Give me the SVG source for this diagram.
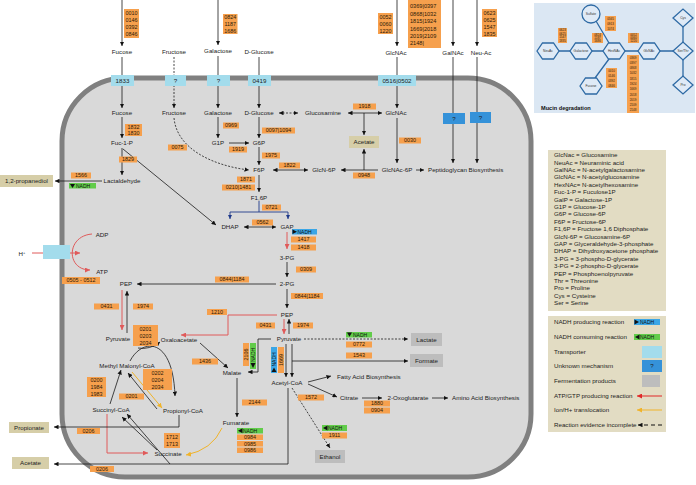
<svg xmlns="http://www.w3.org/2000/svg" width="696" height="485" viewBox="0 0 696 485">
<defs>
<style>
text{font-family:"Liberation Sans",Arial,sans-serif;fill:#222}
.l{font-size:6.2px;text-anchor:middle}
.ls{font-size:6.2px;text-anchor:start}
.c{font-size:5.4px;text-anchor:middle;fill:#2b1a08}
.cs{font-size:5.6px;text-anchor:start;fill:#2b1a08}
.o{fill:#f6a04d}
.tr{fill:#a3dcec}
.uk{fill:#3592d9}
.fp{fill:#bdbdbd}
.tan{fill:#d6cea8}
.k{fill:none;stroke:#1a1a1a;stroke-width:0.8}
.ka{fill:none;stroke:#1a1a1a;stroke-width:0.8;marker-end:url(#ab)}
.kd{fill:none;stroke:#1a1a1a;stroke-width:0.8;stroke-dasharray:2,1.5;marker-end:url(#ab)}
.kb{fill:none;stroke:#1a1a1a;stroke-width:0.8;marker-start:url(#ab);marker-end:url(#ab)}
.r{fill:none;stroke:#e05a5a;stroke-width:1;marker-end:url(#ar)}
.y{fill:none;stroke:#f0b32a;stroke-width:1;marker-end:url(#ay)}
.nv{fill:none;stroke:#1f3a8a;stroke-width:0.9}
.nva{fill:none;stroke:#1f3a8a;stroke-width:0.9;marker-end:url(#an)}
.g{fill:#62cc4a}
.bl{fill:#3aa6e6}
.n{font-size:5px;text-anchor:start;fill:#111}
.hx{fill:#dfeaf6;stroke:#2e6aa4;stroke-width:1.3}
.hl{fill:none;stroke:#2e6aa4;stroke-width:1.3}
.ht{font-size:3.3px;text-anchor:middle;fill:#333}
.mc{font-size:3px;text-anchor:middle;fill:#2b1a08}
</style>
<marker id="ab" viewBox="0 0 6 6" refX="6" refY="3" markerWidth="4.5" markerHeight="4.5" markerUnits="userSpaceOnUse" orient="auto-start-reverse"><path d="M0,0L6,3L0,6z" fill="#111"/></marker>
<marker id="ar" viewBox="0 0 6 6" refX="6" refY="3" markerWidth="5" markerHeight="5" markerUnits="userSpaceOnUse" orient="auto"><path d="M0,0L6,3L0,6z" fill="#e05a5a"/></marker>
<marker id="ay" viewBox="0 0 6 6" refX="6" refY="3" markerWidth="5" markerHeight="5" markerUnits="userSpaceOnUse" orient="auto"><path d="M0,0L6,3L0,6z" fill="#f0b32a"/></marker>
<marker id="an" viewBox="0 0 6 6" refX="6" refY="3" markerWidth="4.5" markerHeight="4.5" markerUnits="userSpaceOnUse" orient="auto"><path d="M0,0L6,3L0,6z" fill="#1f3a8a"/></marker>
<marker id="ard" viewBox="0 0 6 6" refX="6" refY="3" markerWidth="5" markerHeight="5" markerUnits="userSpaceOnUse" orient="auto"><path d="M0,0L6,3L0,6z" fill="#e02828"/></marker>
</defs>
<rect width="696" height="485" fill="#fff"/>
<g id="cell"><rect x="62" y="78" width="469" height="399" rx="63" fill="#d9d9d9" stroke="#808080" stroke-width="5"/></g>

<g id="connectors">
<path class="ka" d="M122,0V46"/>
<path class="ka" d="M122,57V108"/>
<path class="ka" d="M122,117V138"/>
<path class="ka" d="M122,148V175"/>
<path class="ka" d="M123,149L216,225"/>
<path class="ka" d="M102,181H55"/>
<path class="kd" d="M174,57V108"/>
<path class="kd" d="M174,118C177,150 215,166 249,170"/>
<path class="ka" d="M218,0V45"/>
<path class="ka" d="M218,56V108"/>
<path class="ka" d="M218,117V138"/>
<path class="ka" d="M229,143H249"/>
<path class="ka" d="M259,57V108"/>
<path class="ka" d="M259,117V138"/>
<path class="ka" d="M259,147V165"/>
<path class="ka" d="M259,175V192"/>
<path class="kb" d="M279,113H298" stroke-dasharray="2,1.5"/>
<path class="kb" d="M348,113H382"/>
<path class="ka" d="M364,113V135"/>
<path class="ka" d="M364,170V149"/>
<path class="ka" d="M397,0V46"/>
<path class="ka" d="M397,57V108"/>
<path class="ka" d="M397,118V163"/>
<path class="ka" d="M378,170H341"/>
<path class="kb" d="M273,170H308"/>
<path class="ka" d="M416,170H424"/>
<path class="ka" d="M453,0V46"/>
<path class="ka" d="M453,57V163"/>
<path class="ka" d="M477,0V46"/>
<path class="ka" d="M477,57V163"/>
<path class="nv" d="M259,201V212M230,212H288"/>
<path class="nva" d="M230,212V219"/>
<path class="nva" d="M288,212V219"/>
<path class="kb" d="M244,227H276"/>
<path class="r" d="M287,232V249"/>
<path class="ka" d="M287,262V277"/>
<path class="ka" d="M276,284H137"/>
<path class="ka" d="M287,289V308"/>
<path class="r" d="M277,315H228V335H181"/>
<path class="r" d="M122,290V330"/>
<path class="ka" d="M127,333V291"/>
<path class="r" d="M284,319V334"/>
<path class="ka" d="M289,334V319"/>
<path class="ka" d="M271,339H258V372H248"/>
<path class="ka" d="M286,344V377"/>
<path class="ka" d="M292,344V377"/>
<path class="kd" d="M304,339H408"/>
<path class="ka" d="M292,361H408"/>
<path class="ka" d="M308,382L331,376"/>
<path class="ka" d="M308,384L337,397"/>
<path class="ka" d="M362,398H382"/>
<path class="ka" d="M432,398H448"/>
<path class="kd" d="M292,388L330,448"/>
<path class="ka" d="M288,388V464H54"/>
<path class="ka" d="M200,343L228,368"/>
<path class="ka" d="M237,378V417"/>
<path class="y" d="M222,428Q212,450 186,455"/>
<path class="r" d="M107,414V453H148"/>
<path class="ka" d="M157,450L122,417"/>
<path class="ka" d="M170,464L127,414"/>
<path class="ka" d="M110,404L121,370"/>
<path class="y" d="M132,372L162,408"/>
<path class="ka" d="M157,409L128,373"/>
<path class="ka" d="M179,415V427H54"/>
<path class="ka" d="M130,361C142,338 173,336 175,396"/>
<path class="ka" d="M138,348Q150,350 160,342"/>
<path class="r" d="M32,253H80"/>
<path class="r" d="M92,234C66,236 66,270 90,270"/>
</g>

<g id="outer-inputs">
<text class="l" x="122" y="54.2">Fucose</text>
<text class="l" x="174" y="54.2">Fructose</text>
<text class="l" x="218" y="52.5">Galactose</text>
<text class="l" x="259" y="54.2">D-Glucose</text>
<text class="l" x="396" y="55">GlcNAc</text>
<text class="l" x="453" y="55">GalNAc</text>
<text class="l" x="481" y="55">Neu-Ac</text>
<rect class="o" x="124" y="9" width="15" height="29"/>
<text class="c" x="131.5" y="14.6">0010</text><text class="c" x="131.5" y="21.9">0146</text><text class="c" x="131.5" y="29.1">0392</text><text class="c" x="131.5" y="36.4">0846</text>
<rect class="o" x="223" y="14" width="14.5" height="20"/>
<text class="c" x="230.2" y="19.3">0824</text><text class="c" x="230.2" y="26">1187</text><text class="c" x="230.2" y="32.7">1686</text>
<rect class="o" x="378" y="13" width="15" height="21"/>
<text class="c" x="385.5" y="18.5">0052</text><text class="c" x="385.5" y="25.5">0060</text><text class="c" x="385.5" y="32.5">1220</text>
<rect class="o" x="408" y="0" width="33" height="48"/>
<text class="cs" x="410" y="8">0369|0397</text><text class="cs" x="410" y="16">0868|1032</text><text class="cs" x="410" y="23.3">1815|1924</text><text class="cs" x="410" y="30.5">1669|2018</text><text class="cs" x="410" y="37.8">2019|2109</text><text class="cs" x="410" y="45">2148|</text>
<rect class="o" x="482" y="9" width="15" height="28"/>
<text class="c" x="489.5" y="14.5">0623</text><text class="c" x="489.5" y="21.5">0625</text><text class="c" x="489.5" y="28.5">1547</text><text class="c" x="489.5" y="35.5">1835</text>
</g>

<g id="transporters">
<rect class="tr" x="111" y="75" width="23" height="11"/><text class="l" x="122.5" y="82.7">1833</text>
<rect class="tr" x="165" y="75" width="21" height="11"/><text class="l" x="175.5" y="82.7">?</text>
<rect class="tr" x="207" y="75" width="23" height="11"/><text class="l" x="218.5" y="82.7">?</text>
<rect class="tr" x="248" y="75" width="23" height="11"/><text class="l" x="259.5" y="82.7">0419</text>
<rect class="tr" x="378" y="75" width="38" height="11"/><text class="l" x="397" y="82.7">0516|0502</text>
<rect class="uk" x="443" y="113" width="22" height="11"/><text class="l" x="454" y="120.7">?</text>
<rect class="uk" x="470" y="112" width="21" height="11"/><text class="l" x="480.5" y="119.7">?</text>
</g>

<g id="sugars">
<text class="l" x="122" y="115.2">Fucose</text>
<text class="l" x="174" y="115.2">Fructose</text>
<text class="l" x="218" y="115.2">Galactose</text>
<text class="l" x="259" y="115.2">D-Glucose</text>
<text class="l" x="323" y="115.2">Glucosamine</text>
<text class="l" x="396" y="115.2">GlcNAc</text>
<text class="l" x="122" y="145.2">Fuc-1-P</text>
<text class="l" x="218" y="145.2">G1P</text>
<text class="l" x="259" y="145.2">G6P</text>
<text class="l" x="122" y="183.2">Lactaldehyde</text>
<text class="l" x="259" y="172.2">F6P</text>
<text class="l" x="324" y="172.2">GlcN-6P</text>
<text class="l" x="397" y="172.2">GlcNAc-6P</text>
<text class="ls" x="428" y="172.2">Peptidoglycan Biosynthesis</text>
<text class="l" x="259" y="200.2">F1,6P</text>
<text class="l" x="230" y="229.2">DHAP</text>
<text class="l" x="287" y="229.2">GAP</text>
<text class="l" x="287" y="260.2">3-PG</text>
<text class="l" x="287" y="286.2">2-PG</text>
<text class="l" x="126" y="286.2">PEP</text>
<text class="l" x="287" y="317.2">PEP</text>
</g>

<g id="central">
<text class="l" x="118" y="341.2">Pyruvate</text>
<text class="l" x="179" y="342.2">Oxaloacetate</text>
<text class="l" x="289" y="341.2">Pyruvate</text>
<text class="l" x="232" y="375.2">Malate</text>
<text class="l" x="287" y="385.2">Acetyl-CoA</text>
<text class="ls" x="337" y="379.2">Fatty Acid Biosynthesis</text>
<text class="l" x="349" y="400.2">Citrate</text>
<text class="l" x="408" y="400.2">2-Oxoglutarate</text>
<text class="ls" x="452" y="400.2">Amino Acid Biosynthesis</text>
<text class="l" x="127" y="368.2">Methyl Malonyl-CoA</text>
<text class="l" x="111" y="412.2">Succinyl-CoA</text>
<text class="l" x="183" y="413.2">Propionyl-CoA</text>
<text class="l" x="236" y="425.2">Fumarate</text>
<text class="l" x="168" y="456.2">Succinate</text>
</g>

<g id="atp-synthase">
<rect class="tr" x="43" y="245" width="27" height="14"/>
<text class="l" x="22" y="256">H<tspan font-size="4" dy="-2">+</tspan></text>
<text class="l" x="102" y="237">ADP</text>
<text class="l" x="102" y="274">ATP</text>
<rect class="o" x="62" y="277" width="38" height="7"/><text class="c" x="81" y="282.4">0505 - 0512</text>
</g>

<g id="products">
<rect class="tan" x="0" y="175" width="53" height="12"/><text class="l" x="26.5" y="183.2">1,2-propanediol</text>
<rect class="tan" x="349" y="136" width="30" height="12"/><text class="l" x="364" y="144.2">Acetate</text>
<rect class="tan" x="9" y="422" width="40" height="11"/><text class="l" x="29" y="429.7">Propionate</text>
<rect class="tan" x="12" y="457" width="37" height="12"/><text class="l" x="30.5" y="465.2">Acetate</text>
<rect class="fp" x="411" y="333" width="31" height="13"/><text class="l" x="426.5" y="341.7">Lactate</text>
<rect class="fp" x="410" y="354" width="33" height="13"/><text class="l" x="426.5" y="362.7">Formate</text>
<rect class="fp" x="315" y="450" width="30" height="13"/><text class="l" x="330" y="458.7">Ethanol</text>
</g>

<g id="enzymes">
<rect class="o" x="125" y="124" width="17" height="12"/><text class="c" x="133.5" y="129">1832</text><text class="c" x="133.5" y="135">1830</text>
<rect class="o" x="119" y="156.5" width="18" height="6"/><text class="c" x="128" y="161.4">1829</text>
<rect class="o" x="168" y="144.5" width="19" height="6"/><text class="c" x="177.5" y="149.4">0075</text>
<rect class="o" x="223" y="122.5" width="16" height="6"/><text class="c" x="231" y="127.4">0969</text>
<rect class="o" x="229" y="146.5" width="18" height="6"/><text class="c" x="238" y="151.4">1919</text>
<rect class="o" x="353" y="103.5" width="23" height="6"/><text class="c" x="364.5" y="108.4">1918</text>
<rect class="o" x="262" y="127.5" width="33" height="6"/><text class="c" x="278.5" y="132.4">0097|1094</text>
<rect class="o" x="262" y="152.5" width="18" height="6"/><text class="c" x="271" y="157.4">1975</text>
<rect class="o" x="279" y="162.5" width="21" height="6"/><text class="c" x="289.5" y="167.4">1822</text>
<rect class="o" x="399" y="137.5" width="22" height="6"/><text class="c" x="410" y="142.4">0030</text>
<rect class="o" x="353" y="172.5" width="22" height="6"/><text class="c" x="364" y="177.4">0948</text>
<rect class="o" x="237" y="176.5" width="18" height="6"/><text class="c" x="246" y="181.4">1871</text>
<rect class="o" x="222" y="184.5" width="33" height="6"/><text class="c" x="238.5" y="189.4">0210|1481</text>
<rect class="o" x="262" y="204.5" width="19" height="6"/><text class="c" x="271.5" y="209.4">0721</text>
<rect class="o" x="252" y="219.5" width="21" height="6"/><text class="c" x="262.5" y="224.4">0562</text>
<rect class="o" x="291" y="236.5" width="25" height="6"/><text class="c" x="303.5" y="241.4">1417</text>
<rect class="o" x="291" y="244.5" width="25" height="6"/><text class="c" x="303.5" y="249.4">1418</text>
<rect class="o" x="296" y="266.5" width="20" height="6"/><text class="c" x="306" y="271.4">0309</text>
<rect class="o" x="215" y="276.5" width="34" height="6"/><text class="c" x="232" y="281.4">0844|1184</text>
<rect class="o" x="291" y="293" width="32" height="6"/><text class="c" x="307" y="297.9">0844|1184</text>
<rect class="o" x="71" y="172.5" width="20" height="6"/><text class="c" x="81" y="177.4">1566</text>
<rect class="o" x="207" y="309" width="20" height="6"/><text class="c" x="217" y="313.9">1210</text>
<rect class="o" x="94" y="303.5" width="25" height="6"/><text class="c" x="106.5" y="308.4">0431</text>
<rect class="o" x="133" y="303.5" width="20" height="6"/><text class="c" x="143" y="308.4">1974</text>
<rect class="o" x="256" y="322.5" width="19" height="6"/><text class="c" x="265.5" y="327.4">0431</text>
<rect class="o" x="293" y="322.5" width="20" height="6"/><text class="c" x="303" y="327.4">1974</text>
<rect class="o" x="133" y="325" width="25" height="21"/><text class="c" x="145.5" y="330.5">0201</text><text class="c" x="145.5" y="337.5">0203</text><text class="c" x="145.5" y="344.5">2034</text>
<rect class="o" x="143" y="369" width="29" height="21"/><text class="c" x="157.5" y="374.5">0202</text><text class="c" x="157.5" y="381.5">0204</text><text class="c" x="157.5" y="388.5">2034</text>
<rect class="o" x="87" y="377" width="19" height="20"/><text class="c" x="96.5" y="382.3">0200</text><text class="c" x="96.5" y="389">1984</text><text class="c" x="96.5" y="395.7">1983</text>
<rect class="o" x="119" y="393.5" width="25" height="6"/><text class="c" x="131.5" y="398.4">0201</text>
<rect class="o" x="192" y="358.5" width="26" height="6"/><text class="c" x="205" y="363.4">1436</text>
<rect class="o" x="243" y="343" width="6" height="23"/><text class="c" transform="translate(247.9,354.5) rotate(-90)">2106</text>
<rect class="o" x="278" y="347" width="6" height="26"/><text class="c" transform="translate(282.9,360) rotate(-90)">1669</text>
<rect class="o" x="346" y="341.5" width="26" height="6"/><text class="c" x="359" y="346.4">0772</text>
<rect class="o" x="346" y="352.5" width="26" height="6"/><text class="c" x="359" y="357.4">1543</text>
<rect class="o" x="298" y="394.5" width="26" height="6"/><text class="c" x="311" y="399.4">1572</text>
<rect class="o" x="364" y="400.5" width="26" height="6"/><text class="c" x="377" y="405.4">1880</text>
<rect class="o" x="364" y="407.5" width="26" height="6"/><text class="c" x="377" y="412.4">0904</text>
<rect class="o" x="322" y="432.5" width="25" height="6"/><text class="c" x="334.5" y="437.4">1911</text>
<rect class="o" x="242" y="399.5" width="25" height="6"/><text class="c" x="254.5" y="404.4">2144</text>
<rect class="o" x="237" y="434.5" width="26" height="5.5"/><text class="c" x="250" y="439.1">0984</text>
<rect class="o" x="237" y="441" width="26" height="5.5"/><text class="c" x="250" y="445.6">0985</text>
<rect class="o" x="237" y="447.5" width="26" height="5.5"/><text class="c" x="250" y="452.1">0986</text>
<rect class="o" x="164" y="433" width="16" height="15"/><text class="c" x="172" y="438.8">1712</text><text class="c" x="172" y="446.3">1713</text>
<rect class="o" x="77" y="428" width="23" height="6"/><text class="c" x="88.5" y="432.9">0206</text>
<rect class="o" x="90" y="466" width="24" height="6"/><text class="c" x="102" y="470.9">0206</text>
</g>

<g id="nadh">
<rect class="g" x="69" y="183" width="27" height="5.5"/><path d="M70,184L75,184L72.5,188z" fill="#111"/><text class="n" x="76" y="187.6">NADH</text>
<rect class="bl" x="292" y="229" width="25" height="5.5"/><path d="M292.5,229.5L297,231.75L292.5,234z" fill="#111"/><text class="n" x="297.5" y="233.6">NADH</text>
<rect class="g" x="346" y="332" width="26" height="5.5"/><path d="M347,332.5L352,332.5L349.5,336.8z" fill="#111"/><text class="n" x="353" y="336.6">NADH</text>
<rect class="g" x="322" y="425" width="25" height="6"/><path d="M323,428L327.5,425.5L327.5,430.5z" fill="#111"/><text class="n" x="328" y="429.9">NADH</text>
<rect class="g" x="237" y="428" width="26" height="5.5"/><path d="M238,430.75L242.5,428.3L242.5,433.2z" fill="#111"/><text class="n" x="243" y="432.6">NADH</text>
<rect class="g" x="250" y="343" width="6" height="26"/><path d="M250.5,363L255.5,363L253,368z" fill="#111"/><text class="n" transform="translate(254.9,362) rotate(-90)">NADH</text>
<rect class="bl" x="271" y="347" width="6" height="26"/><path d="M271.5,372L276.5,372L274,367.5z" fill="#111"/><text class="n" transform="translate(275.9,366.5) rotate(-90)">NADH</text>
</g>

<g id="mucin">
<rect x="534" y="3" width="161" height="110" fill="#dbe7f3"/>
<path class="hl" d="M559,51H570M592,51H603M625,51H638M660,51H673M683,27V42M683,60V76M596,21L609,43M595,78L609,59"/>
<polygon class="hx" points="537,51 542.5,43 553.5,43 559,51 553.5,59 542.5,59"/>
<polygon class="hx" points="570,51 575.5,43 586.5,43 592,51 586.5,59 575.5,59"/>
<polygon class="hx" points="603,51 608.5,43 619.5,43 625,51 619.5,59 608.5,59"/>
<polygon class="hx" points="638,51 643.5,43 654.5,43 660,51 654.5,59 643.5,59"/>
<polygon class="hx" points="580,86 585.5,78 596.5,78 602,86 596.5,94 585.5,94"/>
<circle class="hx" cx="591" cy="14" r="9"/>
<polygon class="hx" points="673,18 683,9 693,18 683,27"/>
<polygon class="hx" points="673,51 683,42 693,51 683,60"/>
<polygon class="hx" points="673,85 683,76 693,85 683,94"/>
<text class="ht" x="548" y="52.2">NeuAc</text>
<text class="ht" x="581" y="52.2">Galactose</text>
<text class="ht" x="614" y="52.2">HexNAc</text>
<text class="ht" x="649" y="52.2">GlcNAc</text>
<text class="ht" x="591" y="87.2">Fucose</text>
<text class="ht" x="591" y="15.2">Sulfate</text>
<text class="ht" x="683" y="19.2">Cys</text>
<text class="ht" x="683" y="52.2">Ser/Thr</text>
<text class="ht" x="683" y="86.2">Pro</text>
<rect class="o" x="558" y="28" width="9" height="15"/>
<text class="mc" x="562.5" y="31">0623</text><text class="mc" x="562.5" y="34.6">0625</text><text class="mc" x="562.5" y="38.2">1547</text><text class="mc" x="562.5" y="41.8">1835</text>
<rect class="o" x="592" y="33" width="11" height="10"/>
<text class="mc" x="597.5" y="35.8">0824</text><text class="mc" x="597.5" y="39">1187</text><text class="mc" x="597.5" y="42.2">1686</text>
<rect class="o" x="605" y="16" width="11" height="15"/>
<text class="mc" x="610.5" y="20">0565</text><text class="mc" x="610.5" y="24.8">0913</text><text class="mc" x="610.5" y="29.6">1074</text>
<rect class="o" x="628" y="33" width="11" height="10"/>
<text class="mc" x="633.5" y="35.8">0052</text><text class="mc" x="633.5" y="39">0060</text><text class="mc" x="633.5" y="42.2">1220</text>
<rect class="o" x="606" y="68" width="11" height="20"/>
<text class="mc" x="611.5" y="71.8">0010</text><text class="mc" x="611.5" y="76.8">0146</text><text class="mc" x="611.5" y="81.8">0392</text><text class="mc" x="611.5" y="86.8">0846</text>
<rect class="o" x="627" y="55" width="12" height="58"/>
<text class="mc" x="633" y="58.6">0369</text><text class="mc" x="633" y="63.9">0397</text><text class="mc" x="633" y="69.2">0868</text><text class="mc" x="633" y="74.4">1032</text><text class="mc" x="633" y="79.7">1815</text><text class="mc" x="633" y="85">1924</text><text class="mc" x="633" y="90.3">1669</text><text class="mc" x="633" y="95.5">2018</text><text class="mc" x="633" y="100.8">2019</text><text class="mc" x="633" y="106.1">2109</text><text class="mc" x="633" y="111.4">2148</text>
<text x="541" y="110" style="font-size:5.6px;font-weight:bold;fill:#111">Mucin degradation</text>
</g>

<g id="legend-abbrev">
<rect x="548" y="150" width="118" height="161" fill="#e2dcc3"/>
<text class="ls" x="554" y="157.2">GlcNac = Glucosamine</text>
<text class="ls" x="554" y="164.6">NeuAc = Neuraminic acid</text>
<text class="ls" x="554" y="172">GalNAc = N-acetylgalactosamine</text>
<text class="ls" x="554" y="179.4">GlcNAc = N-acetylglucosamine</text>
<text class="ls" x="554" y="186.8">HexNAc= N-acetylhexosamine</text>
<text class="ls" x="554" y="194.2">Fuc-1-P = Fuculose1P</text>
<text class="ls" x="554" y="201.6">GalP = Galactose-1P</text>
<text class="ls" x="554" y="209">G1P = Glucose-1P</text>
<text class="ls" x="554" y="216.4">G6P = Glucose-6P</text>
<text class="ls" x="554" y="223.8">F6P = Fructose-6P</text>
<text class="ls" x="554" y="231.2">F1,6P = Fructose 1,6 Diphosphate</text>
<text class="ls" x="554" y="238.6">GlcN-6P = Glucosamine-6P</text>
<text class="ls" x="554" y="246">GAP = Glyceraldehyde-3-phosphate</text>
<text class="ls" x="554" y="253.4">DHAP  = Dihydroxyacetone phosphate</text>
<text class="ls" x="554" y="260.8">3-PG = 3-phospho-D-glycerate</text>
<text class="ls" x="554" y="268.2">3-PG = 2-phospho-D-glycerate</text>
<text class="ls" x="554" y="275.6">PEP = Phosphoenolpyruvate</text>
<text class="ls" x="554" y="283">Thr = Threonine</text>
<text class="ls" x="554" y="290.4">Pro = Proline</text>
<text class="ls" x="554" y="297.8">Cys = Cysteine</text>
<text class="ls" x="554" y="305.2">Ser = Serine</text>
</g>

<g id="legend-symbols">
<rect x="548" y="316" width="118" height="116" fill="#e2dcc3"/>
<text class="ls" x="554" y="324.2">NADH producing reaction</text>
<rect class="bl" x="634" y="319" width="26" height="6"/><path d="M634.5,319.5L639,322L634.5,324.5z" fill="#111"/><text class="n" x="640" y="323.9">NADH</text>
<text class="ls" x="554" y="339.2">NADH consuming reaction</text>
<rect class="g" x="634" y="334" width="26" height="6"/><path d="M635,337L639.5,334.5L639.5,339.5z" fill="#111"/><text class="n" x="640" y="338.9">NADH</text>
<text class="ls" x="554" y="354.2">Transporter</text>
<rect class="tr" x="642" y="346" width="20" height="12"/>
<text class="ls" x="554" y="368.2">Unknown mechanism</text>
<rect class="uk" x="642" y="360" width="20" height="12"/><text class="l" x="652" y="368">?</text>
<text class="ls" x="554" y="383.2">Fermentation products</text>
<rect class="fp" x="642" y="375" width="18" height="12"/>
<text class="ls" x="554" y="398.2">ATP/GTP producing reaction</text>
<path d="M662,396H637" fill="none" stroke="#e02828" stroke-width="1" marker-end="url(#ard)"/>
<text class="ls" x="554" y="412.2">Ion/H+ translocation</text>
<path class="y" d="M662,410H637"/>
<text class="ls" x="554" y="427.2">Reaction evidence incomplete</text>
<path d="M662,425H638" fill="none" stroke="#111" stroke-width="1" stroke-dasharray="4,3" marker-end="url(#ab)"/>
</g>
</svg>
